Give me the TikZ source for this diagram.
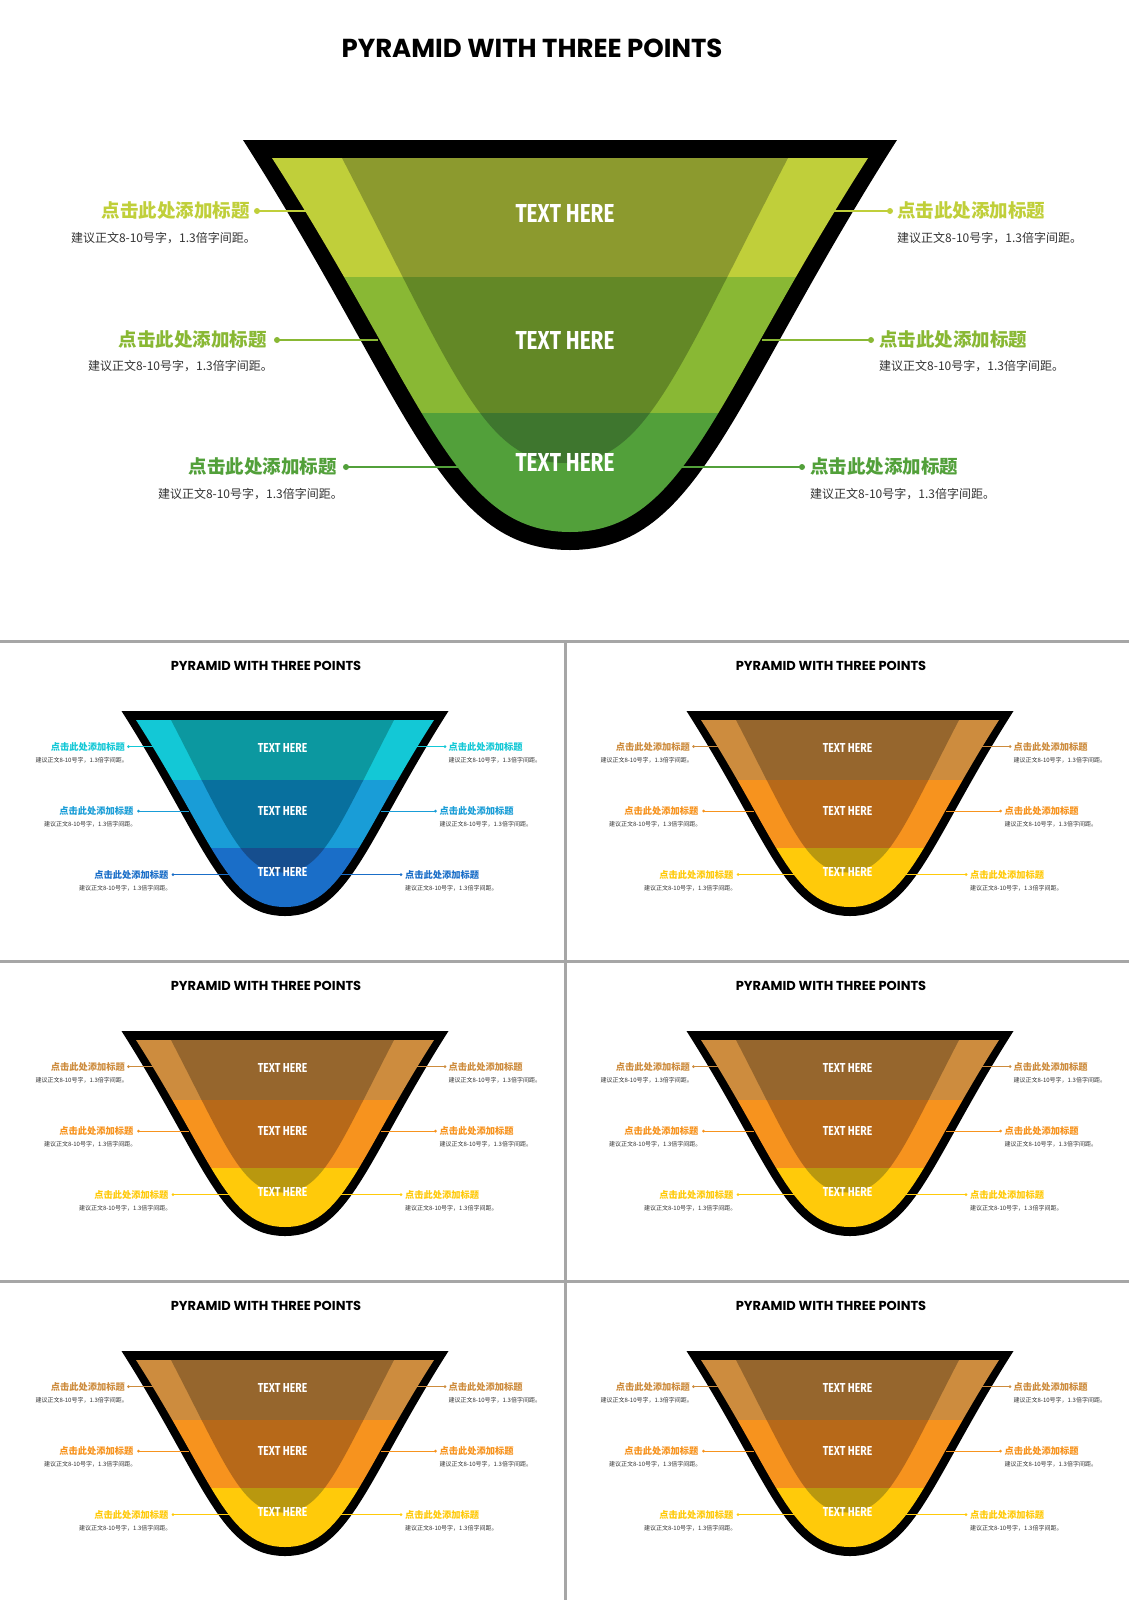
\documentclass[tikz,border=0pt]{standalone}
\usepackage{fontspec}
\newfontfamily\titlefont{Poppins}
\newfontfamily\bandfont[FakeStretch=0.8]{Fira Sans}
\newfontfamily\cjkfont{Noto Sans CJK SC}

\definecolor{greenA}{HTML}{C0CF3A}
\definecolor{greenB}{HTML}{89B834}
\definecolor{greenC}{HTML}{52A03A}
\definecolor{greenAd}{HTML}{8C9A2E}
\definecolor{greenBd}{HTML}{638826}
\definecolor{greenCd}{HTML}{3E762E}
\definecolor{blueA}{HTML}{13C8D6}
\definecolor{blueB}{HTML}{199DD7}
\definecolor{blueC}{HTML}{1A6EC8}
\definecolor{blueAd}{HTML}{0C98A0}
\definecolor{blueBd}{HTML}{08709E}
\definecolor{blueCd}{HTML}{164E8E}
\definecolor{orangeA}{HTML}{CD8C3E}
\definecolor{orangeB}{HTML}{F7931E}
\definecolor{orangeC}{HTML}{FFCA0A}
\definecolor{orangeAd}{HTML}{96662D}
\definecolor{orangeBd}{HTML}{B76919}
\definecolor{orangeCd}{HTML}{B9980F}
\definecolor{textgray}{HTML}{333333}
\definecolor{dividergray}{HTML}{A6A6A6}

% #1 name prefix, #2 colour scheme, #3 scale of the slide
\newcommand{\pyramidslide}[3]{%
  \node[slidetitle] (#1-title) at (532,58) {PYRAMID WITH THREE POINTS};

  \fill (243,140) -- (897,140) .. controls (731,400) and (700,550) .. (570,550)
    .. controls (440,550) and (409,400) .. (243,140) -- cycle;
  \begin{scope}
    \clip (272,158) -- (868,158) .. controls (714,398) and (686,532) .. (570,532)
      .. controls (454,532) and (426,398) .. (272,158) -- cycle;
    \fill[#2A] (250,150) rectangle (890,277);
    \fill[#2B] (250,277) rectangle (890,413);
    \fill[#2C] (250,413) rectangle (890,560);
    \clip (342,158) -- (788,158) .. controls (674,378) and (645,463) .. (565,463)
      .. controls (485,463) and (456,378) .. (342,158) -- cycle;
    \fill[#2Ad] (250,150) rectangle (890,277);
    \fill[#2Bd] (250,277) rectangle (890,413);
    \fill[#2Cd] (250,413) rectangle (890,560);
  \end{scope}

  \node[bandtext] (#1-band1) at (565,222) {TEXT HERE};
  \node[bandtext] (#1-band2) at (565,349) {TEXT HERE};
  \node[bandtext] (#1-band3) at (565,471) {TEXT HERE};

  \node[labeltitle, anchor=east, text=#2A] (#1-l1) at (250,211) {点击此处添加标题};
  \node[labeltitle, anchor=east, text=#2B] (#1-l2) at (267,340) {点击此处添加标题};
  \node[labeltitle, anchor=east, text=#2C] (#1-l3) at (337,467) {点击此处添加标题};
  \node[labeltext, anchor=east] (#1-l1text) at (256,238) {建议正文8-10号字，1.3倍字间距。};
  \node[labeltext, anchor=east] (#1-l2text) at (273,366) {建议正文8-10号字，1.3倍字间距。};
  \node[labeltext, anchor=east] (#1-l3text) at (343,494) {建议正文8-10号字，1.3倍字间距。};
  \node[labeltitle, anchor=west, text=#2A] (#1-r1) at (897,211) {点击此处添加标题};
  \node[labeltitle, anchor=west, text=#2B] (#1-r2) at (879,340) {点击此处添加标题};
  \node[labeltitle, anchor=west, text=#2C] (#1-r3) at (810,467) {点击此处添加标题};
  \node[labeltext, anchor=west] (#1-r1text) at (897,238) {建议正文8-10号字，1.3倍字间距。};
  \node[labeltext, anchor=west] (#1-r2text) at (879,366) {建议正文8-10号字，1.3倍字间距。};
  \node[labeltext, anchor=west] (#1-r3text) at (810,494) {建议正文8-10号字，1.3倍字间距。};

  \coordinate (#1-l1dot) at (257,211); \coordinate (#1-l1end) at (308,211);
  \coordinate (#1-l2dot) at (277,340); \coordinate (#1-l2end) at (378,340);
  \coordinate (#1-l3dot) at (346,467); \coordinate (#1-l3end) at (460,467);
  \coordinate (#1-r1dot) at (890,211); \coordinate (#1-r1end) at (832,211);
  \coordinate (#1-r2dot) at (871,340); \coordinate (#1-r2end) at (762,340);
  \coordinate (#1-r3dot) at (802,467); \coordinate (#1-r3end) at (680,467);
  \draw[#2A, line width=#3*1.5pt] (#1-l1dot) -- (#1-l1end);
  \draw[#2B, line width=#3*1.5pt] (#1-l2dot) -- (#1-l2end);
  \draw[#2C, line width=#3*1.5pt] (#1-l3dot) -- (#1-l3end);
  \draw[#2A, line width=#3*1.5pt] (#1-r1dot) -- (#1-r1end);
  \draw[#2B, line width=#3*1.5pt] (#1-r2dot) -- (#1-r2end);
  \draw[#2C, line width=#3*1.5pt] (#1-r3dot) -- (#1-r3end);
  \fill[#2A] (#1-l1dot) circle (3) (#1-r1dot) circle (3);
  \fill[#2B] (#1-l2dot) circle (3) (#1-r2dot) circle (3);
  \fill[#2C] (#1-l3dot) circle (3) (#1-r3dot) circle (3);
}

\begin{document}
\begin{tikzpicture}[x=1pt, y=-1pt,
  slidetitle/.style={font=\titlefont\bfseries\fontsize{26}{30}\selectfont, anchor=base, inner sep=0pt},
  bandtext/.style={font=\bandfont\bfseries\fontsize{26}{30}\selectfont, text=white, anchor=base, inner sep=0pt},
  labeltitle/.style={font=\cjkfont\bfseries\fontsize{18.5}{22}\selectfont, inner sep=0pt},
  labeltext/.style={font=\cjkfont\fontsize{12}{14}\selectfont, text=textgray, inner sep=0pt},
  divider/.style={draw=dividergray, line width=3pt}]
  \useasboundingbox (0,0) rectangle (1129,1600);
  \fill[white] (0,0) rectangle (1129,1600);

  \pyramidslide{top}{green}{1}
  \begin{scope}[shift={(0,641)}, scale=0.5, transform shape]
    \pyramidslide{blue}{blue}{0.5}
  \end{scope}
  \begin{scope}[shift={(565,641)}, scale=0.5, transform shape]
    \pyramidslide{or1}{orange}{0.5}
  \end{scope}
  \begin{scope}[shift={(0,961)}, scale=0.5, transform shape]
    \pyramidslide{or2}{orange}{0.5}
  \end{scope}
  \begin{scope}[shift={(565,961)}, scale=0.5, transform shape]
    \pyramidslide{or3}{orange}{0.5}
  \end{scope}
  \begin{scope}[shift={(0,1281)}, scale=0.5, transform shape]
    \pyramidslide{or4}{orange}{0.5}
  \end{scope}
  \begin{scope}[shift={(565,1281)}, scale=0.5, transform shape]
    \pyramidslide{or5}{orange}{0.5}
  \end{scope}

  \draw[divider] (0,641) -- (1129,641);
  \draw[divider] (0,961) -- (1129,961);
  \draw[divider] (0,1281) -- (1129,1281);
  \draw[divider] (565,641) -- (565,1600);
\end{tikzpicture}
\end{document}
